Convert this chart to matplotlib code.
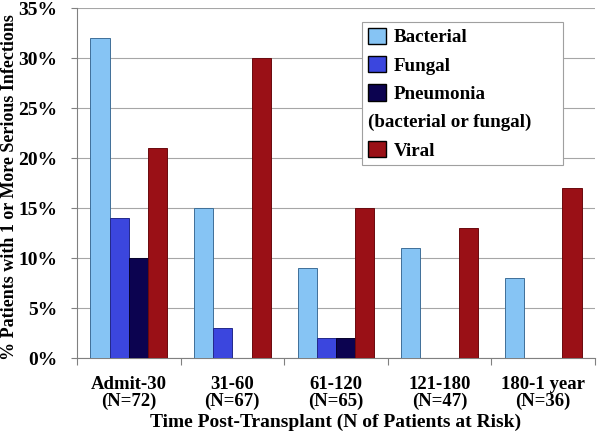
import numpy as np
import matplotlib
matplotlib.use('Agg')
import matplotlib.pyplot as plt
from matplotlib.ticker import FixedLocator, FuncFormatter
from matplotlib.patches import Patch

# Données (% de patients)
categories = ['Admit-30\n(N=72)', '31-60\n(N=67)', '61-120\n(N=65)',
              '121-180\n(N=47)', '180-1 year\n(N=36)']
bacterial = [32, 15, 9, 11, 8]
fungal = [14, 3, 2, 0, 0]
pneumonia = [10, 0, 2, 0, 0]
viral = [21, 30, 15, 13, 17]
series_names = ['Bacterial', 'Fungal', 'Pneumonia', 'Viral']
pneumonia_note = '(bacterial or fungal)'
y_ticks = [0, 5, 10, 15, 20, 25, 30, 35]

colors = ['#86C4F4', '#3B46DE', '#0C0350', '#9A1016']
edges = ['#3F6F98', '#23298A', '#05012A', '#6A0A0E']

plt.rcParams['font.family'] = ['Liberation Serif', 'DejaVu Serif']
plt.rcParams['font.weight'] = 'bold'

fig = plt.figure(figsize=(6.01, 4.46), dpi=100)
ax = fig.add_axes([0.128, 0.197, 0.862, 0.785])

x = np.arange(len(categories))
width = 0.185
values = [bacterial, fungal, pneumonia, viral]
for i, (vals, name) in enumerate(zip(values, series_names)):
    ax.bar(x + (i - 1.5) * width, vals, width, color=colors[i],
           edgecolor=edges[i], linewidth=0.7, label=name, zorder=3)

ax.set_xlim(-0.5, len(categories) - 0.5)
ax.set_ylim(0, 35)
ax.set_yticks(y_ticks)
ax.yaxis.set_major_formatter(FuncFormatter(lambda v, p: '%d%%' % v))
ax.set_xticks(x)
ax.set_xticklabels(categories, fontsize=13.5, fontweight='bold', linespacing=0.95)
ax.xaxis.set_minor_locator(FixedLocator(np.arange(len(categories) + 1) - 0.5))
ax.tick_params(axis='x', which='major', length=0, pad=13)
ax.tick_params(axis='x', which='minor', length=5, color='#808080', width=0.8)
ax.tick_params(axis='y', length=4, color='#808080', width=0.8, labelsize=14, pad=10)
for lab in ax.get_yticklabels():
    lab.set_fontweight('bold')

ax.grid(axis='y', color='#A6A6A6', linewidth=0.8, zorder=0)
ax.set_axisbelow(True)
for s in ['top', 'right']:
    ax.spines[s].set_visible(False)
for s in ['left', 'bottom']:
    ax.spines[s].set_color('#808080')
    ax.spines[s].set_linewidth(0.8)

ax.set_xlabel('Time Post-Transplant (N of Patients at Risk)', fontsize=14,
              fontweight='bold', labelpad=3)
ax.set_ylabel('% Patients with 1 or More Serious Infections', fontsize=13,
              fontweight='bold')
ax.yaxis.set_label_coords(-0.114, 0.49)

# Légende avec une ligne de texte sans symbole
handles = [Patch(facecolor=colors[i], edgecolor='black', linewidth=1.0) for i in range(3)]
handles.append(Patch(facecolor='none', edgecolor='none'))
handles.append(Patch(facecolor=colors[3], edgecolor='black', linewidth=1.0))
labels = series_names[:3] + [pneumonia_note] + series_names[3:]
fs = 13.7
hl = 0.95
tp = 0.42
leg = ax.legend(handles, labels, loc='upper right',
                bbox_to_anchor=(563 / 601, 1 - 22 / 446), bbox_transform=fig.transFigure,
                borderaxespad=0, prop={'weight': 'bold', 'size': fs},
                handlelength=hl, handleheight=hl, handletextpad=tp,
                labelspacing=0.5, borderpad=0.3, fancybox=False,
                edgecolor='#A0A0A0', framealpha=1)
leg.get_frame().set_linewidth(0.8)
shift = (hl + tp) * fs * fig.dpi / 72
leg.get_texts()[3].set_x(-shift)

fig.savefig('out.png', dpi=100)
